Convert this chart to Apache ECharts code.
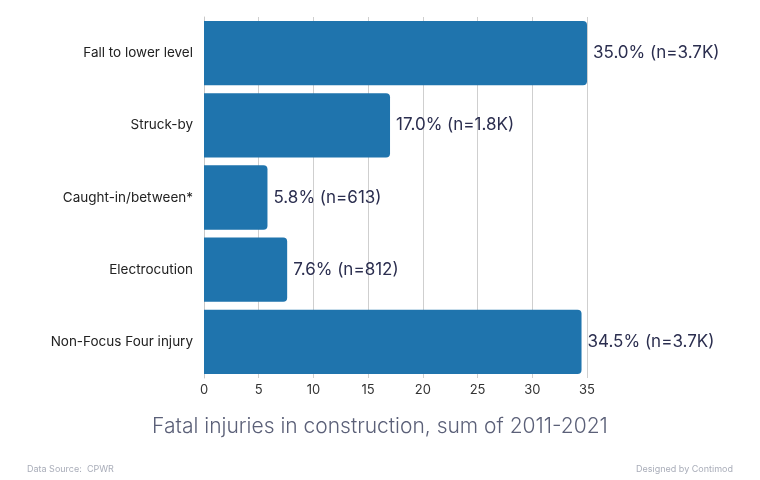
<!DOCTYPE html>
<html><head><meta charset="utf-8">
<script src="https://cdn.jsdelivr.net/npm/echarts@6/dist/echarts.min.js"></script>
<style>html,body{margin:0;padding:0;background:#fff}#c{width:760px;height:480px}</style>
</head><body><div id="c"></div>
<script>
const categories = ["Fall to lower level","Struck-by","Caught-in/between*","Electrocution","Non-Focus Four injury"];
const percentages = [35.0, 17.0, 5.8, 7.6, 34.5];
const counts = ["3.7K","1.8K","613","812","3.7K"];
const xTicks = [0,5,10,15,20,25,30,35];
const FONT = "Inter, 'Noto Sans', sans-serif";
const chart = echarts.init(document.getElementById('c'));
chart.setOption({
  animation:false,
  textStyle:{fontFamily:FONT},
  grid:{left:204,right:173,top:17,bottom:102,containLabel:false},
  title:[
    {text:"Fatal injuries in construction, sum of 2011-2021",left:'center',top:411,textStyle:{fontFamily:FONT,fontSize:21,fontWeight:300,color:'#5b6078'}},
    {text:"Data Source:  CPWR",left:22,top:460,textStyle:{fontFamily:FONT,fontSize:9,fontWeight:'normal',color:'#a9adb9'}},
    {text:"Designed by Contimod",right:22,top:460,textStyle:{fontFamily:FONT,fontSize:9,fontWeight:'normal',color:'#a9adb9'}}
  ],
  xAxis:{type:'value',min:xTicks[0],max:xTicks[xTicks.length-1],interval:5,
    axisLine:{show:false},axisTick:{show:false},
    axisLabel:{color:'#333',fontSize:13,margin:6,fontFamily:FONT},
    splitLine:{lineStyle:{color:'#cfcfcf'}}},
  yAxis:{type:'category',data:categories,inverse:true,
    axisLine:{show:true,lineStyle:{color:'#c8c8c8'}},axisTick:{show:false},
    axisLabel:{color:'#222',fontSize:13.5,margin:11,fontFamily:FONT}},
  series:[{type:'bar',data:percentages,barCategoryGap:'11%',
    itemStyle:{color:'#1f74ad',borderRadius:[0,4,4,0]},
    label:{show:true,position:'right',distance:6,fontSize:17,color:'#2b2e4f',fontFamily:FONT,
      formatter:p=>p.value.toFixed(1)+'% (n='+counts[p.dataIndex]+')'}}]
});
</script></body></html>
